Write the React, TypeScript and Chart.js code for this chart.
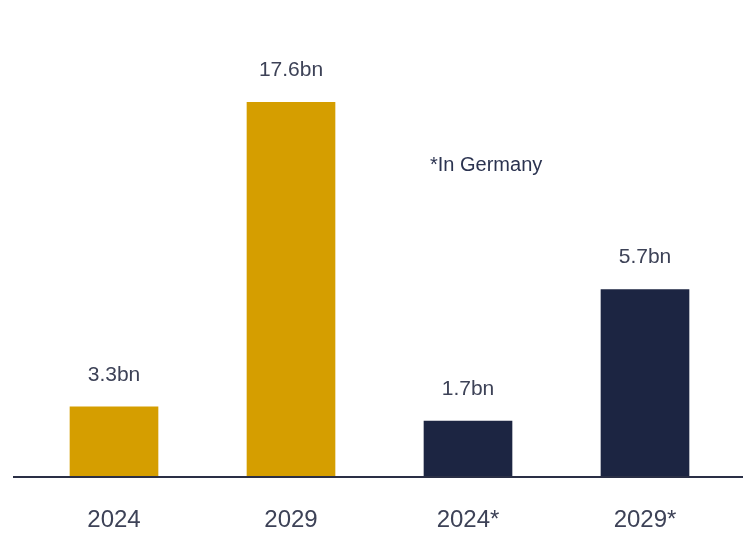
import React, { useEffect, useRef } from "react";
import { Chart, registerables } from "chart.js";

Chart.register(...registerables);

const categories = ["2024", "2029", "2024*", "2029*"];
const globalValues: (number | null)[] = [3.3, 17.6, null, null];
const germanyValues: (number | null)[] = [null, null, 1.7, 5.7];
const valueSuffix = "bn";
const noteText = "*In Germany";

const GOLD = "#D59E00";
const NAVY = "#1C2542";
const TEXT = "#3d4257";
const FONT = "'Liberation Sans', Arial, Helvetica, sans-serif";

const overlayPlugin = {
  id: "overlay",
  afterDatasetsDraw(chart: any) {
    const ctx = chart.ctx;
    const area = chart.chartArea;
    ctx.save();
    ctx.strokeStyle = "#2a2f45";
    ctx.lineWidth = 2;
    ctx.beginPath();
    ctx.moveTo(13, area.bottom);
    ctx.lineTo(chart.width, area.bottom);
    ctx.stroke();
    ctx.fillStyle = TEXT;
    ctx.font = `21px ${FONT}`;
    ctx.textAlign = "center";
    ctx.textBaseline = "middle";
    chart.data.datasets.forEach((ds: any, di: number) => {
      const meta = chart.getDatasetMeta(di);
      meta.data.forEach((el: any, i: number) => {
        const v = ds.data[i];
        if (v === null || v === undefined) return;
        ctx.fillText(`${v}${valueSuffix}`, el.x, el.y - 32);
      });
    });
    ctx.restore();
  },
};

export default function App() {
  const ref = useRef<HTMLCanvasElement | null>(null);
  useEffect(() => {
    if (!ref.current) return;
    const chart = new Chart(ref.current, {
      type: "bar",
      data: {
        labels: categories,
        datasets: [
          {
            label: "Global",
            data: globalValues,
            backgroundColor: GOLD,
            yAxisID: "y",
            grouped: false,
            barThickness: 88,
          },
          {
            label: "Germany",
            data: germanyValues,
            backgroundColor: NAVY,
            yAxisID: "y2",
            grouped: false,
            barThickness: 88,
          },
        ],
      },
      options: {
        animation: false,
        responsive: true,
        maintainAspectRatio: false,
        layout: { padding: { left: 25.5, right: 9.5, top: 0, bottom: 0 } },
        plugins: {
          legend: { display: false },
          tooltip: { enabled: false },
        },
        scales: {
          x: {
            grid: { display: false, drawTicks: false },
            border: { display: false },
            ticks: {
              color: TEXT,
              padding: 29,
              font: { family: FONT, size: 24 },
            },
            afterFit: (scale: any) => {
              scale.height = 65;
            },
          },
          y: { display: false, min: 0, max: 22.4 },
          y2: { display: false, min: 0, max: 14.5 },
        },
      },
      plugins: [overlayPlugin],
    });
    return () => chart.destroy();
  }, []);

  return (
    <div style={{ position: "absolute", left: 0, top: 0, width: 743, height: 542, background: "#fff" }}>
      <canvas ref={ref} />
      <div
        style={{
          position: "absolute",
          left: 430,
          top: 153,
          fontFamily: FONT,
          fontSize: 20,
          color: "#2b3350",
          whiteSpace: "nowrap",
        }}
      >
        {noteText}
      </div>
    </div>
  );
}
